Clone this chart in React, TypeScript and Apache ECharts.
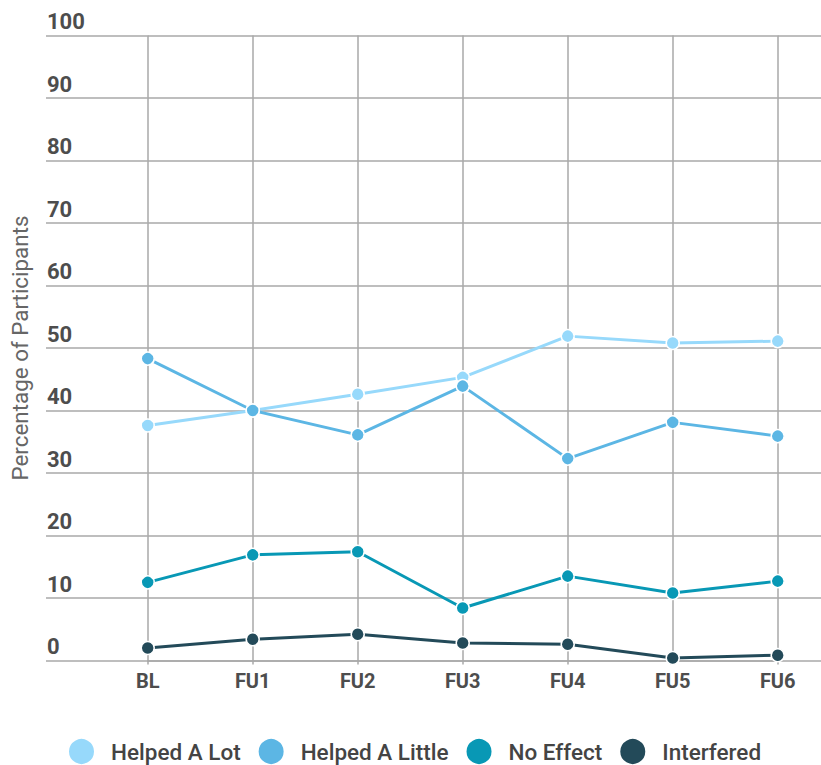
import React, { useEffect, useRef } from "react";
import * as echarts from "echarts";

// Survey waves along the x axis
const categories = ["BL", "FU1", "FU2", "FU3", "FU4", "FU5", "FU6"];

// Percentage of participants per response
const helpedALot = [37.6, 40.0, 42.6, 45.3, 51.9, 50.8, 51.1];
const helpedALittle = [48.3, 40.0, 36.1, 43.9, 32.3, 38.1, 35.9];
const noEffect = [12.5, 16.9, 17.4, 8.4, 13.5, 10.8, 12.7];
const interfered = [2.0, 3.4, 4.2, 2.8, 2.6, 0.4, 0.85];

const seriesNames = ["Helped A Lot", "Helped A Little", "No Effect", "Interfered"];
const seriesColors = ["#97d9fb", "#5cb6e4", "#0898b5", "#234a59"];

const gridColor = "#a8a8a8";

export default function App() {
  const ref = useRef<HTMLDivElement>(null);

  useEffect(() => {
    if (!ref.current) return;
    const chart = echarts.init(ref.current, null, { renderer: "svg" });
    const values = [helpedALot, helpedALittle, noEffect, interfered];

    chart.setOption({
      animation: false,
      textStyle: { fontFamily: "Roboto" },
      grid: { left: 147.7, right: 43.3, top: 35.5, bottom: 104.5 },
      xAxis: {
        type: "category",
        data: categories,
        boundaryGap: false,
        axisLine: { show: true, lineStyle: { color: gridColor, width: 1.5 } },
        axisTick: { show: true, length: 4, lineStyle: { color: gridColor, width: 1.5 } },
        axisLabel: {
          margin: 10,
          fontSize: 20,
          fontWeight: "bold",
          color: "#4d4d4d",
        },
        splitLine: { show: true, lineStyle: { color: gridColor, width: 1.5 } },
      },
      yAxis: [
        {
          type: "value",
          min: 0,
          max: 100,
          interval: 10,
          name: "Percentage of Participants",
          nameLocation: "middle",
          nameGap: 117,
          nameTextStyle: { fontSize: 22.4, color: "#666666", fontFamily: "Roboto" },
          axisLine: { show: false },
          axisTick: { show: true, length: 101.7, lineStyle: { color: gridColor, width: 1.5 } },
          axisLabel: {
            align: "left",
            verticalAlign: "bottom",
            margin: 100.7,
            padding: [0, 0, 3, 0],
            fontSize: 22,
            fontWeight: "bold",
            color: "#4d4d4d",
          },
          splitLine: { show: true, lineStyle: { color: gridColor, width: 1.5 } },
        },
        {
          type: "value",
          position: "right",
          min: 0,
          max: 100,
          interval: 10,
          axisLine: { show: false },
          axisTick: { show: true, length: 43.3, lineStyle: { color: gridColor, width: 1.5 } },
          axisLabel: { show: false },
          splitLine: { show: false },
        },
      ],
      legend: {
        left: 67,
        top: 737,
        padding: 0,
        icon: "circle",
        itemWidth: 27,
        itemHeight: 27,
        itemGap: 16,
        data: seriesNames,
        textStyle: {
          fontSize: 22.5,
          fontWeight: 500,
          color: "#444444",
          padding: [0, 0, 0, 11],
        },
      },
      series: seriesNames.map((name, i) => ({
        name,
        type: "line",
        yAxisIndex: 0,
        data: values[i],
        symbol: "circle",
        symbolSize: 13,
        lineStyle: { width: 3, color: seriesColors[i] },
        itemStyle: { color: seriesColors[i], borderColor: "#ffffff", borderWidth: 1.5 },
      })),
    });

    return () => chart.dispose();
  }, []);

  return (
    <div
      ref={ref}
      style={{ position: "absolute", left: 0, top: 0, width: 821, height: 765, background: "#ffffff" }}
    />
  );
}
